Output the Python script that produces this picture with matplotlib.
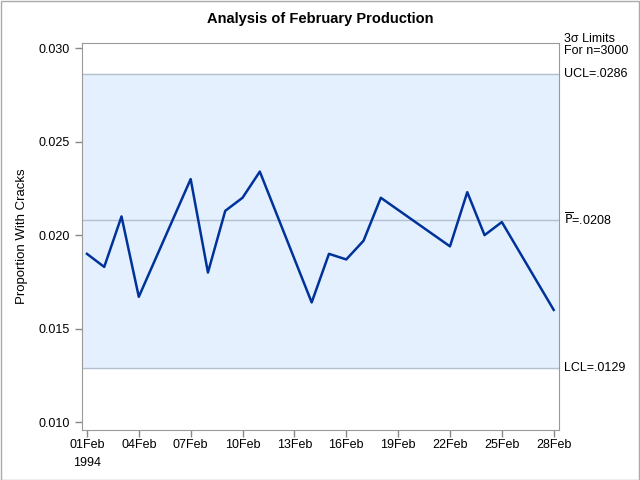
import matplotlib
matplotlib.use("Agg")
import matplotlib.pyplot as plt
from matplotlib.patches import Rectangle

plt.rcParams['font.family'] = ['Liberation Sans', 'DejaVu Sans']

# day of February 1994, weekends and 21Feb missing
days = [1, 2, 3, 4, 7, 8, 9, 10, 11, 14, 15, 16, 17, 18, 22, 23, 24, 25, 28]
prop = [0.0190, 0.0183, 0.0210, 0.0167, 0.0230, 0.0180, 0.0213, 0.0220, 0.0234,
        0.0164, 0.0190, 0.0187, 0.0197, 0.0220, 0.0194, 0.0223, 0.0200, 0.0207, 0.0160]

ucl = 0.0286
pbar = 0.0208
lcl = 0.0129

tick_days = [1, 4, 7, 10, 13, 16, 19, 22, 25, 28]
tick_labels = ['01Feb\n1994', '04Feb', '07Feb', '10Feb', '13Feb', '16Feb',
               '19Feb', '22Feb', '25Feb', '28Feb']

fig = plt.figure(figsize=(6.4, 4.8), dpi=100)
ax = fig.add_axes([0.128, 0.104, 0.745, 0.806])

ax.axhspan(lcl, ucl, color='#E5F0FF', zorder=0)
for v in (lcl, pbar, ucl):
    ax.axhline(v, color='#B4C0D0', lw=1, zorder=1)
ax.plot(days, prop, color='#003399', lw=1.8, zorder=3)

ax.set_xlim(0.71, 28.29)
ax.set_ylim(0.00957, 0.03027)
ax.set_yticks([0.010, 0.015, 0.020, 0.025, 0.030])
ax.set_yticklabels(['0.010', '0.015', '0.020', '0.025', '0.030'])
ax.set_xticks(tick_days)
ax.set_xticklabels(tick_labels, linespacing=1.6)
ax.tick_params(labelsize=9, color='#888888', length=5, width=1, labelcolor='#000000')
ax.tick_params(axis='x', pad=1.5)
for s in ax.spines.values():
    s.set_color('#999999')

ax.set_ylabel('Proportion With Cracks', fontsize=9.5, labelpad=8)
fig.text(0.5, 1 - 19 / 480, 'Analysis of February Production', ha='center', va='center',
         fontsize=10.5, fontweight='bold')

fig.text(0.882, 1 - 45 / 480, '3\u03c3 Limits\nFor n=3000',
         fontsize=9, va='center', ha='left', linespacing=1.0)
ax.text(1.012, ucl, 'UCL=.0286', transform=ax.get_yaxis_transform(),
        fontsize=9, va='center', ha='left')
ax.text(1.012, pbar, r'$\overline{\mathrm{P}}$=.0208', transform=ax.get_yaxis_transform(),
        fontsize=9, va='center', ha='left')
ax.text(1.012, lcl, 'LCL=.0129', transform=ax.get_yaxis_transform(),
        fontsize=9, va='center', ha='left')

fig.patches.append(Rectangle((0.001, 0.001), 0.997, 0.997, transform=fig.transFigure,
                             fill=False, edgecolor='#AAAAAA', lw=1))

fig.savefig('out.png', dpi=100)
